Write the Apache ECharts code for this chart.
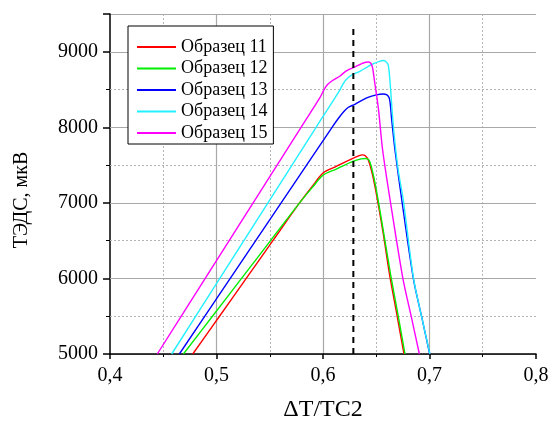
<!DOCTYPE html>
<html>
<head>
<meta charset="utf-8">
<script src="https://cdn.jsdelivr.net/npm/echarts@6/dist/echarts.min.js"></script>
<style>html,body{margin:0;padding:0;background:#fff}#c{width:551px;height:423px}</style>
</head>
<body>
<div id="c"></div>
<script>
// ---- data ----
const seriesNames = ['Образец 11', 'Образец 12', 'Образец 13', 'Образец 14', 'Образец 15'];
const s11 = [[0.4777,5000],[0.5028,5500],[0.5279,6000],[0.5529,6500],[0.578,7000],[0.590,7220],[0.600,7395],[0.612,7480],[0.628,7590],[0.634,7625],[0.637,7635],[0.640,7620],[0.6426,7566],[0.646,7400],[0.650,7126],[0.6565,6600],[0.6625,6050],[0.669,5550],[0.676,5000]];
const s12 = [[0.4689,5000],[0.4962,5500],[0.5235,6000],[0.5507,6500],[0.578,7000],[0.590,7205],[0.600,7365],[0.612,7445],[0.628,7550],[0.636,7583],[0.640,7588],[0.643,7570],[0.645,7500],[0.648,7320],[0.651,7100],[0.657,6600],[0.6635,6050],[0.670,5550],[0.677,5000]];
const s13 = [[0.4651,5000],[0.5129,6000],[0.5607,7000],[0.6085,8000],[0.614,8110],[0.619,8200],[0.6235,8262],[0.630,8305],[0.641,8390],[0.650,8430],[0.6565,8442],[0.660,8430],[0.662,8395],[0.663,8330],[0.6645,8100],[0.6676,7699],[0.674,7037],[0.6848,6000],[0.6925,5500],[0.7002,5000]];
const s14 = [[0.4579,5000],[0.5031,6000],[0.5483,7000],[0.5935,8000],[0.6161,8500],[0.619,8580],[0.623,8650],[0.628,8700],[0.635,8745],[0.641,8795],[0.648,8845],[0.653,8874],[0.6565,8884],[0.659,8872],[0.661,8835],[0.662,8750],[0.6635,8500],[0.665,8200],[0.6675,7800],[0.671,7400],[0.6754,7037],[0.685,6000],[0.6925,5500],[0.7004,5000]];
const s15 = [[0.4444,5000],[0.4894,6000],[0.5344,7000],[0.5794,8000],[0.5974,8400],[0.601,8500],[0.6045,8570],[0.609,8620],[0.616,8680],[0.622,8748],[0.630,8800],[0.636,8840],[0.640,8862],[0.643,8864],[0.645,8845],[0.6465,8790],[0.6485,8600],[0.652,8250],[0.656,7700],[0.663,7040],[0.675,6000],[0.6828,5500],[0.6905,5000]];
const refLine = [[0.6285,5000],[0.6285,9330]];
const yMajorGrid = [6000, 7000, 8000, 9000];
const yMinorGrid = [5500, 6500, 7500, 8500];
const xTickLabels = {'0.4':'0,4','0.5':'0,5','0.6':'0,6','0.7':'0,7','0.8':'0,8'};
const yTickLabels = {'5000':'5000','6000':'6000','7000':'7000','8000':'8000','9000':'9000'};
const colors = ['#ff0000','#00ee00','#0000ff','#22f0ff','#ff00ff'];

const FONT = "'Liberation Serif','Times New Roman',serif";
const chart = echarts.init(document.getElementById('c'));
const seriesData = [s11, s12, s13, s14, s15];
const gridMarkLine = {
  silent: true, symbol: ['none', 'none'], z: 1, animation: false, label: {show: false},
  emphasis: {disabled: true},
  data: yMajorGrid.map(v => ({yAxis: v, lineStyle: {color: '#a8a8a8', width: 1.2, type: 'solid'}}))
    .concat(yMinorGrid.map(v => ({yAxis: v, lineStyle: {color: '#b4b4b4', width: 1, type: [2, 2]}})))
};
const series = seriesData.map((d, i) => ({
  name: seriesNames[i], type: 'line', data: d, showSymbol: false, symbol: 'none', z: 3,
  smooth: 0.3, lineStyle: {color: colors[i], width: 1.4}, itemStyle: {color: colors[i]},
  markLine: i === 0 ? gridMarkLine : undefined
}));
series.push({
  name: 'ref', type: 'line', data: refLine, symbol: 'none', silent: true, z: 4,
  lineStyle: {color: '#000', width: 2, type: [6, 5]}
});

chart.setOption({
  animation: false,
  grid: {left: 110, right: 15, top: 14, bottom: 69, outerBoundsMode: 'none', containLabel: false},
  legend: {
    data: seriesNames.map(n => ({name: n, icon: 'rect'})), orient: 'vertical', left: 128, top: 26,
    padding: [12, 6, 2, 9], borderColor: '#000', borderWidth: 1, backgroundColor: '#fff',
    itemWidth: 39, itemHeight: 2, itemGap: 3.5,
    textStyle: {fontFamily: FONT, fontSize: 18, color: '#000', lineHeight: 18}
  },
  xAxis: {
    type: 'value', min: 0.4, max: 0.8, interval: 0.1,
    name: 'ΔT/TC2', nameLocation: 'middle', nameGap: 44,
    nameTextStyle: {fontFamily: FONT, fontSize: 24, color: '#000'},
    axisLine: {show: true, lineStyle: {color: '#000', width: 1.5}},
    axisTick: {show: true, inside: false, length: 5, lineStyle: {color: '#000', width: 1.5}},
    minorTick: {show: true, splitNumber: 2, length: 3, lineStyle: {color: '#000', width: 1}},
    axisLabel: {margin: 12, fontFamily: FONT, fontSize: 20, color: '#000',
      formatter: v => xTickLabels[v.toFixed(1)] || ''},
    splitLine: {show: true, showMinLine: false, showMaxLine: false, lineStyle: {color: '#a8a8a8', width: 1.2}},
    minorSplitLine: {show: true, lineStyle: {color: '#b4b4b4', width: 1, type: [2, 2]}}
  },
  yAxis: {
    type: 'value', min: 5000, max: 9500, interval: 1000,
    axisLine: {show: true, lineStyle: {color: '#000', width: 1.5}},
    axisTick: {show: true, inside: false, length: 7, lineStyle: {color: '#000', width: 1.5}},
    minorTick: {show: true, splitNumber: 2, length: 4, lineStyle: {color: '#000', width: 1}},
    axisLabel: {margin: 12, fontFamily: FONT, fontSize: 20, color: '#000', showMaxLabel: false,
      formatter: v => yTickLabels[String(Math.round(v))] || ''},
    splitLine: {show: true, lineStyle: {color: '#a8a8a8', width: 1.2}},
    minorSplitLine: {show: true, lineStyle: {color: '#b4b4b4', width: 1, type: [2, 2]}}
  },
  graphic: [{
    type: 'text', x: 22, y: 200, rotation: Math.PI / 2,
    style: {text: 'ТЭДС, мкВ', fontFamily: FONT, fontSize: 20, fill: '#000', align: 'center', verticalAlign: 'middle'}
  }],
  series: series
});
</script>
</body>
</html>
